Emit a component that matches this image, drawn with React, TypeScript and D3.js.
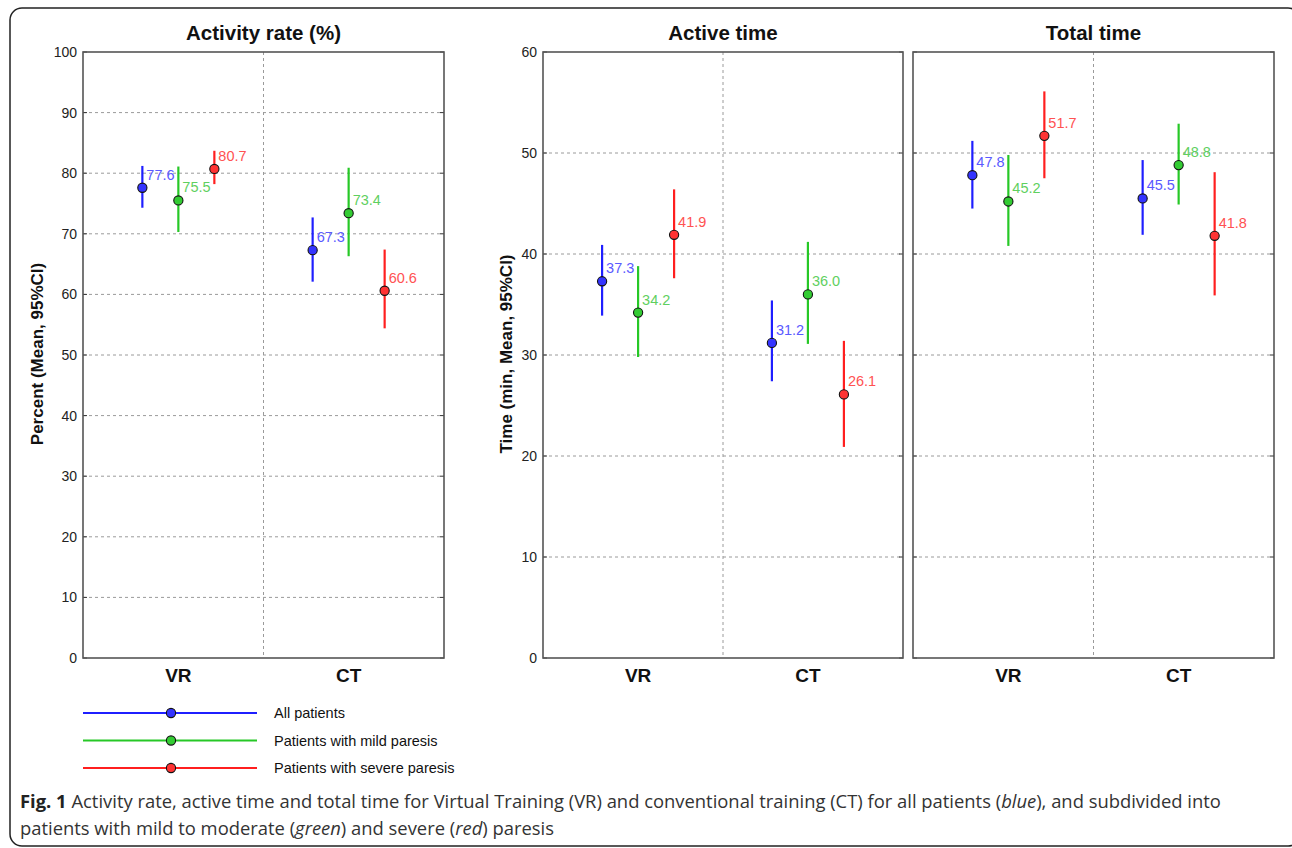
import React from 'react'
import * as d3 from 'd3'

// categories and groups
const categories = ['VR', 'CT']
const groups = ['All patients', 'Patients with mild paresis', 'Patients with severe paresis']

// activity rate (%) - rows: groups, cols: categories
const activityMean = [[77.6, 67.3], [75.5, 73.4], [80.7, 60.6]]
const activityLow = [[74.3, 62.1], [70.3, 66.3], [78.2, 54.4]]
const activityHigh = [[81.2, 72.7], [81.1, 80.9], [83.7, 67.4]]

// active time (min)
const activeMean = [[37.3, 31.2], [34.2, 36.0], [41.9, 26.1]]
const activeLow = [[33.9, 27.4], [29.8, 31.1], [37.6, 20.9]]
const activeHigh = [[40.9, 35.4], [38.8, 41.2], [46.4, 31.4]]

// total time (min)
const totalMean = [[47.8, 45.5], [45.2, 48.8], [51.7, 41.8]]
const totalLow = [[44.5, 41.9], [40.8, 44.9], [47.5, 35.9]]
const totalHigh = [[51.2, 49.3], [49.8, 52.9], [56.1, 48.1]]

const percentTicks = [0, 10, 20, 30, 40, 50, 60, 70, 80, 90, 100]
const timeTicks = [0, 10, 20, 30, 40, 50, 60]

const lineColors = ['#1f1fff', '#26c826', '#ff1f1f']
const dotColors = ['#3434ff', '#33cc33', '#ff3333']
const labelColors = ['#5a5aff', '#5fd05f', '#ff5252']

const chartFont = '"Liberation Sans", Arial, sans-serif'
const plotTop = 52
const plotBottom = 658

type PanelProps = {
  title: string
  yLabel?: string
  yLabelX?: number
  ticks: number[]
  mean: number[][]
  low: number[][]
  high: number[][]
  x0: number
  x1: number
  showTickLabels: boolean
}

const Panel = ({ title, yLabel, yLabelX, ticks, mean, low, high, x0, x1, showTickLabels }: PanelProps) => {
  const x = d3.scalePoint().domain(categories).range([x0, x1]).padding(0.56)
  const off = d3.scalePoint().domain(groups).range([-36, 36])
  const y = d3.scaleLinear().domain([0, d3.max(ticks) as number]).range([plotBottom, plotTop])
  const mid = (x0 + x1) / 2

  return (
    <g>
      <text x={mid} y={40} textAnchor="middle" fontFamily={chartFont} fontWeight="bold" fontSize={20.5} fill="#111">
        {title}
      </text>

      {/* grid */}
      {ticks.slice(1, -1).map(t => (
        <line key={'g' + t} x1={x0} x2={x1} y1={y(t)} y2={y(t)} stroke="#9a9a9a" strokeDasharray="3,3" />
      ))}
      <line x1={mid} x2={mid} y1={plotTop} y2={plotBottom} stroke="#9a9a9a" strokeDasharray="3,3" />
      {ticks.map(t => (
        <g key={'t' + t}>
          <line x1={x0} x2={x0 + 4} y1={y(t)} y2={y(t)} stroke="#333" />
          <line x1={x1 - 4} x2={x1} y1={y(t)} y2={y(t)} stroke="#333" />
        </g>
      ))}
      <rect x={x0} y={plotTop} width={x1 - x0} height={plotBottom - plotTop} fill="none" stroke="#555" strokeWidth={1.6} />

      {showTickLabels && ticks.map(t => (
        <text key={'l' + t} x={x0 - 6} y={y(t)} dy="0.36em" textAnchor="end" fontFamily={chartFont} fontSize={14} fill="#222">
          {t}
        </text>
      ))}

      {yLabel && (
        <text transform={`translate(${yLabelX},${(plotTop + plotBottom) / 2 - 1}) rotate(-90)`} textAnchor="middle"
          fontFamily={chartFont} fontWeight="bold" fontSize={17} fill="#111">
          {yLabel}
        </text>
      )}

      {categories.map(c => (
        <text key={c} x={x(c)} y={682} textAnchor="middle" fontFamily={chartFont} fontWeight="bold" fontSize={19} fill="#111">
          {c}
        </text>
      ))}

      {groups.map((g, gi) => categories.map((c, ci) => {
        const cx = (x(c) as number) + (off(g) as number)
        const cy = y(mean[gi][ci])
        return (
          <g key={g + c}>
            <line x1={cx} x2={cx} y1={y(low[gi][ci])} y2={y(high[gi][ci])} stroke={lineColors[gi]} strokeWidth={2.2} />
            <circle cx={cx} cy={cy} r={4.6} fill={dotColors[gi]} stroke="#111" strokeWidth={1.1} />
            <text x={cx + 4} y={cy - 8} fontFamily={chartFont} fontSize={14.5} fill={labelColors[gi]}>
              {mean[gi][ci].toFixed(1)}
            </text>
          </g>
        )
      }))}
    </g>
  )
}

const App = () => {
  const legendY = d3.scalePoint().domain(groups).range([713, 768])

  return (
    <svg width={1292} height={848} style={{ position: 'absolute', left: 0, top: 0, background: '#fff' }}>
      <rect x={10} y={8} width={1290} height={838} rx={12} fill="none" stroke="#222" strokeWidth={1.5} />

      <Panel title="Activity rate (%)" yLabel="Percent (Mean, 95%CI)" yLabelX={43} ticks={percentTicks}
        mean={activityMean} low={activityLow} high={activityHigh} x0={83} x1={444} showTickLabels />
      <Panel title="Active time" yLabel="Time (min, Mean, 95%CI)" yLabelX={512} ticks={timeTicks}
        mean={activeMean} low={activeLow} high={activeHigh} x0={543} x1={903} showTickLabels />
      <Panel title="Total time" ticks={timeTicks}
        mean={totalMean} low={totalLow} high={totalHigh} x0={913} x1={1274} showTickLabels={false} />

      {/* legend */}
      {groups.map((g, i) => (
        <g key={g}>
          <line x1={83} x2={257} y1={legendY(g)} y2={legendY(g)} stroke={lineColors[i]} strokeWidth={2} />
          <circle cx={171} cy={legendY(g)} r={4.6} fill={dotColors[i]} stroke="#111" strokeWidth={1.1} />
          <text x={274} y={legendY(g)} dy="0.35em" fontFamily={chartFont} fontSize={14.5} fill="#111">{g}</text>
        </g>
      ))}

      {/* caption */}
      <text x={20} y={808} fontFamily='"Open Sans", sans-serif' fontSize={18.4} fill="#333">
        <tspan fontWeight="bold" fill="#222">Fig. 1</tspan>
        <tspan> Activity rate, active time and total time for Virtual Training (VR) and conventional training (CT) for all patients (</tspan>
        <tspan fontStyle="italic">blue</tspan>
        <tspan>), and subdivided into</tspan>
      </text>
      <text x={20} y={835} fontFamily='"Open Sans", sans-serif' fontSize={18.4} fill="#333">
        <tspan>patients with mild to moderate (</tspan>
        <tspan fontStyle="italic">green</tspan>
        <tspan>) and severe (</tspan>
        <tspan fontStyle="italic">red</tspan>
        <tspan>) paresis</tspan>
      </text>
    </svg>
  )
}

export default App
